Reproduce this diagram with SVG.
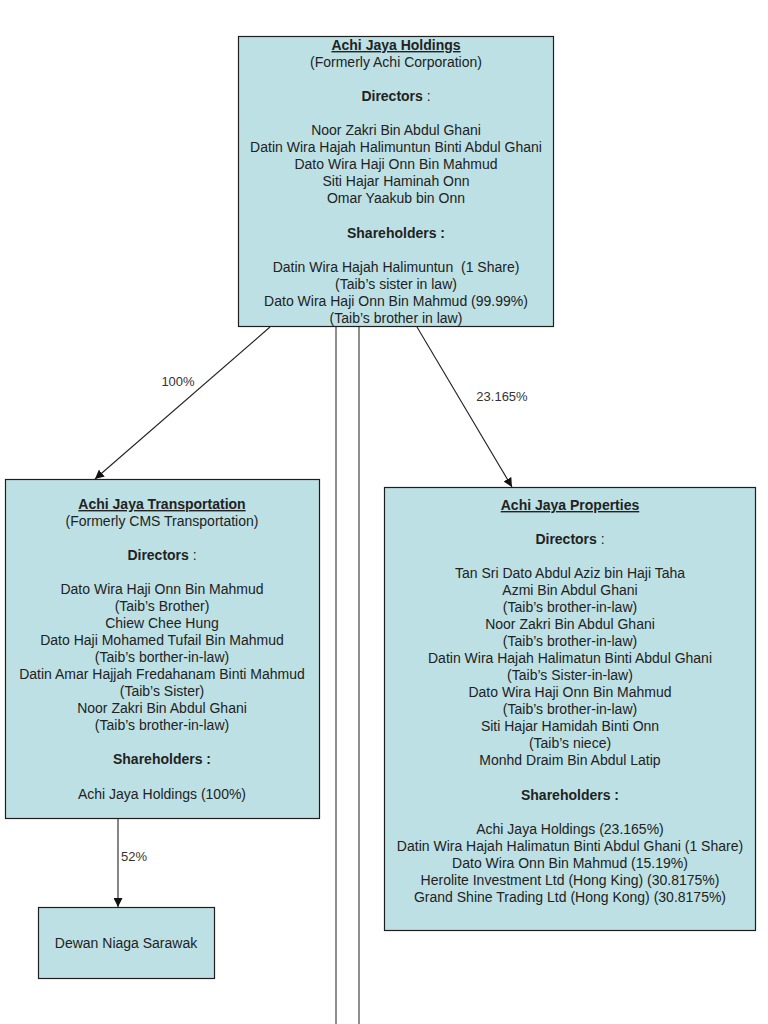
<svg xmlns="http://www.w3.org/2000/svg" width="768" height="1024" viewBox="0 0 768 1024">
<style>
.box{fill:#bde0e4;stroke:#1e1e1e;stroke-width:1.2}
text{font-family:"Liberation Sans",Arial,sans-serif;font-size:14px;fill:#222;text-anchor:middle}
.b{font-weight:bold}
.u{font-weight:bold;text-decoration:underline}
.c{stroke:#222;stroke-width:1.1;fill:none}
.v{stroke:#444;stroke-width:1.2;fill:none}
.lbl{fill:#333;text-anchor:middle;font-size:13px}
</style>
<defs>
<marker id="ah" viewBox="0 0 10 10" refX="10" refY="5" markerWidth="9" markerHeight="9" markerUnits="userSpaceOnUse" orient="auto">
<path d="M0,0 L10,5 L0,10 z" fill="#111"/>
</marker>
</defs>
<rect width="768" height="1024" fill="#fff"/>
<g id="connectors">
<line class="v" x1="336" y1="327" x2="336" y2="1024"/>
<line class="v" x1="359" y1="327" x2="359" y2="1024"/>
<line class="c" x1="270" y1="327" x2="95" y2="479" marker-end="url(#ah)"/>
<line class="c" x1="417" y1="327" x2="512" y2="487" marker-end="url(#ah)"/>
<line class="c" x1="118" y1="818" x2="118" y2="907" marker-end="url(#ah)"/>
<text class="lbl" x="178" y="386">100%</text>
<text class="lbl" x="502" y="401">23.165%</text>
<text class="lbl" x="134" y="861">52%</text>
</g>
<g id="holdings">
<rect class="box" x="238.5" y="36.5" width="315" height="290"/>
<text x="396" y="50" class="u">Achi Jaya Holdings</text>
<text x="396" y="67">(Formerly Achi Corporation)</text>
<text x="396" y="101"><tspan class="b">Directors</tspan> :</text>
<text x="396" y="135">Noor Zakri Bin Abdul Ghani</text>
<text x="396" y="152">Datin Wira Hajah Halimuntun Binti Abdul Ghani</text>
<text x="396" y="169">Dato Wira Haji Onn Bin Mahmud</text>
<text x="396" y="186">Siti Hajar Haminah Onn</text>
<text x="396" y="203">Omar Yaakub bin Onn</text>
<text x="396" y="238" class="b">Shareholders :</text>
<text x="396" y="272">Datin Wira Hajah Halimuntun &#160;(1 Share)</text>
<text x="396" y="289">(Taib’s sister in law)</text>
<text x="396" y="306">Dato Wira Haji Onn Bin Mahmud (99.99%)</text>
<text x="396" y="323">(Taib’s brother in law)</text>
</g>
<g id="transportation">
<rect class="box" x="5.5" y="479.5" width="314" height="339"/>
<text x="162" y="509" class="u">Achi Jaya Transportation</text>
<text x="162" y="526">(Formerly CMS Transportation)</text>
<text x="162" y="560"><tspan class="b">Directors</tspan> :</text>
<text x="162" y="594">Dato Wira Haji Onn Bin Mahmud</text>
<text x="162" y="611">(Taib’s Brother)</text>
<text x="162" y="628">Chiew Chee Hung</text>
<text x="162" y="645">Dato Haji Mohamed Tufail Bin Mahmud</text>
<text x="162" y="662">(Taib’s borther-in-law)</text>
<text x="162" y="679">Datin Amar Hajjah Fredahanam Binti Mahmud</text>
<text x="162" y="696">(Taib’s Sister)</text>
<text x="162" y="713">Noor Zakri Bin Abdul Ghani</text>
<text x="162" y="730">(Taib’s brother-in-law)</text>
<text x="162" y="764" class="b">Shareholders :</text>
<text x="162" y="799">Achi Jaya Holdings (100%)</text>
</g>
<g id="properties">
<rect class="box" x="384.5" y="487.5" width="371" height="443"/>
<text x="570" y="510" class="u">Achi Jaya Properties</text>
<text x="570" y="544"><tspan class="b">Directors</tspan> :</text>
<text x="570" y="578">Tan Sri Dato Abdul Aziz bin Haji Taha</text>
<text x="570" y="595">Azmi Bin Abdul Ghani</text>
<text x="570" y="612">(Taib’s brother-in-law)</text>
<text x="570" y="629">Noor Zakri Bin Abdul Ghani</text>
<text x="570" y="646">(Taib’s brother-in-law)</text>
<text x="570" y="663">Datin Wira Hajah Halimatun Binti Abdul Ghani</text>
<text x="570" y="680">(Taib’s Sister-in-law)</text>
<text x="570" y="697">Dato Wira Haji Onn Bin Mahmud</text>
<text x="570" y="714">(Taib’s brother-in-law)</text>
<text x="570" y="731">Siti Hajar Hamidah Binti Onn</text>
<text x="570" y="748">(Taib’s niece)</text>
<text x="570" y="765">Monhd Draim Bin Abdul Latip</text>
<text x="570" y="800" class="b">Shareholders :</text>
<text x="570" y="834">Achi Jaya Holdings (23.165%)</text>
<text x="570" y="851">Datin Wira Hajah Halimatun Binti Abdul Ghani (1 Share)</text>
<text x="570" y="868">Dato Wira Onn Bin Mahmud (15.19%)</text>
<text x="570" y="885">Herolite Investment Ltd (Hong King) (30.8175%)</text>
<text x="570" y="902">Grand Shine Trading Ltd (Hong Kong) (30.8175%)</text>
</g>
<g id="dewan">
<rect class="box" x="38.5" y="907.5" width="176" height="71"/>
<text x="126" y="948">Dewan Niaga Sarawak</text>
</g>
</svg>
